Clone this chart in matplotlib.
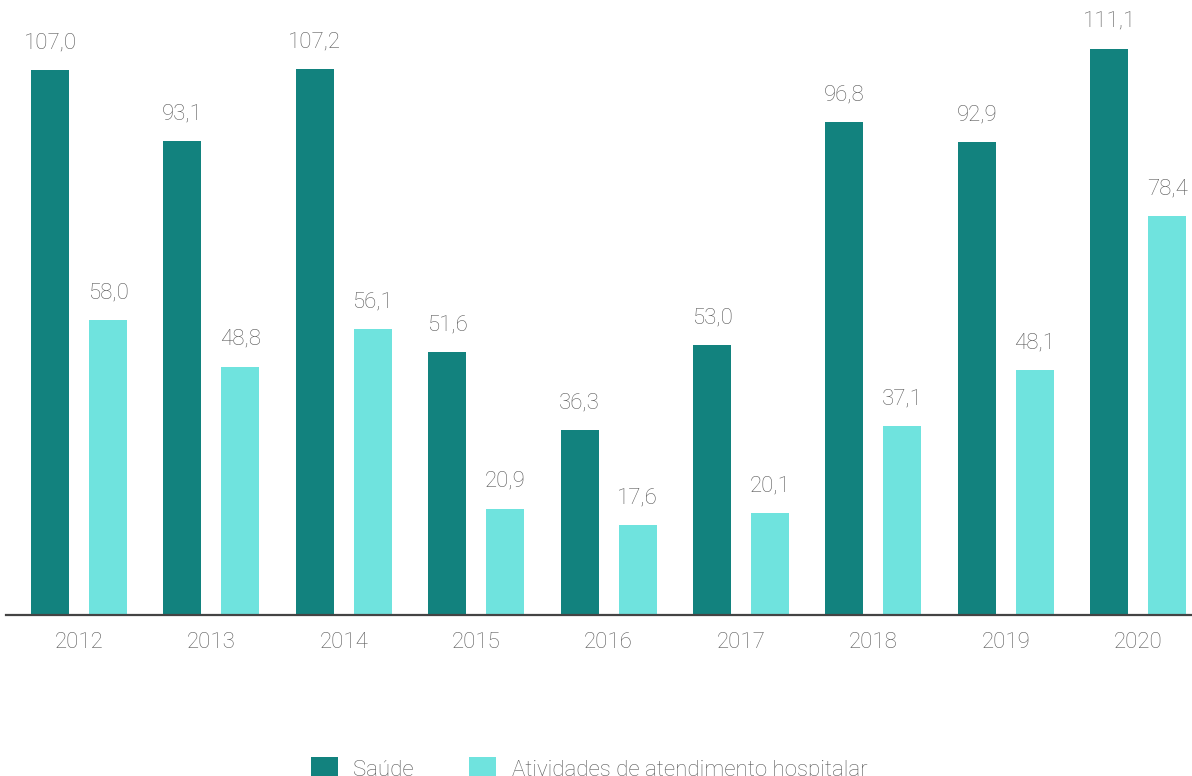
import matplotlib.pyplot as plt
import numpy as np

plt.rcParams['font.family'] = ['Roboto', 'DejaVu Sans']
plt.rcParams['font.weight'] = 'light'

# dados do gráfico
anos = ["2012", "2013", "2014", "2015", "2016", "2017", "2018", "2019", "2020"]
saude = [107.0, 93.1, 107.2, 51.6, 36.3, 53.0, 96.8, 92.9, 111.1]
hospitalar = [58.0, 48.8, 56.1, 20.9, 17.6, 20.1, 37.1, 48.1, 78.4]
series_nomes = ["Saúde", "Atividades de atendimento hospitalar"]

cor_escura = "#12827e"
cor_clara = "#6fe3de"
cor_texto = "#5a5a5a"

fig = plt.figure(figsize=(11.92, 7.76), dpi=100)
ax = fig.add_axes([6 / 1192, 1 - 615 / 776, 1186 / 1192, 611 / 776])

passo = 132.4  # px entre grupos
x = np.arange(len(anos))
largura = 38 / passo
desloc = 29 / passo

b1 = ax.bar(x - desloc, saude, largura, color=cor_escura, label=series_nomes[0])
b2 = ax.bar(x + desloc, hospitalar, largura, color=cor_clara, label=series_nomes[1])

def fmt(v):
    return f"{v:.1f}".replace(".", ",")

for barras, vals in [(b1, saude), (b2, hospitalar)]:
    for rect, v in zip(barras, vals):
        ax.annotate(fmt(v), (rect.get_x() + rect.get_width() / 2, v),
                    xytext=(0, 12), textcoords="offset points",
                    ha="center", va="bottom", fontsize=16, color=cor_texto)

ax.set_xlim(-73 / passo, (1192 - 79) / passo)
ax.set_ylim(0, 120)
ax.set_xticks(x)
ax.set_xticklabels(anos, fontsize=16, color=cor_texto)
ax.tick_params(axis="x", length=0, pad=12)
ax.set_yticks([])
for s in ["top", "right", "left"]:
    ax.spines[s].set_visible(False)
ax.spines["bottom"].set_color("#444444")
ax.spines["bottom"].set_linewidth(1.6)

leg = fig.legend(handles=[b1, b2], loc="upper left", bbox_to_anchor=(302 / 1192, 1 - 748 / 776),
                 ncol=2, frameon=False, fontsize=16, handlelength=1.2, handleheight=1.2,
                 handletextpad=0.7, columnspacing=2.5, borderaxespad=0)
for t in leg.get_texts():
    t.set_color(cor_texto)

fig.savefig("out.png", dpi=100)
